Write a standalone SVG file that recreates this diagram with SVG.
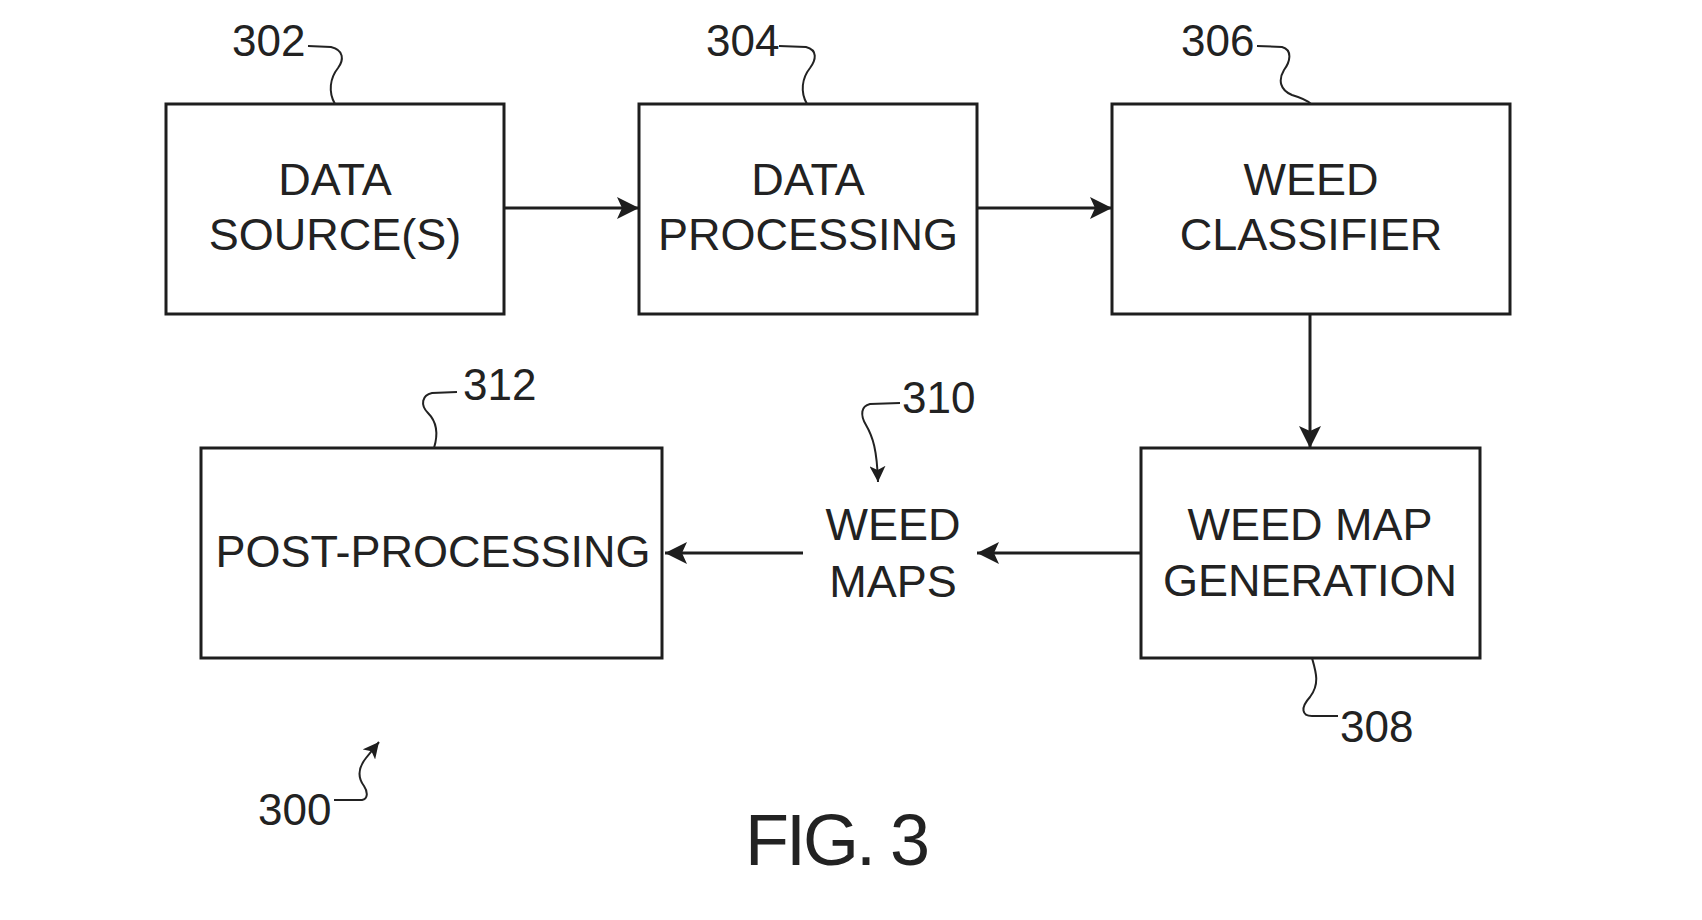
<svg xmlns="http://www.w3.org/2000/svg" width="1702" height="920" viewBox="0 0 1702 920">
<style>
.box{fill:#fff;stroke:#1e1e1e;stroke-width:3}
.t{font-family:"Liberation Sans",Arial,sans-serif;font-size:45px;fill:#222;text-anchor:middle}
.lbl{font-family:"Liberation Sans",Arial,sans-serif;font-size:44px;fill:#222}
.c{fill:none;stroke:#1e1e1e;stroke-width:3}
.ld{fill:none;stroke:#222;stroke-width:2}
.fig{font-family:"Liberation Sans",Arial,sans-serif;font-size:72px;fill:#222;letter-spacing:-3px}
</style>
<defs>
<marker id="ah" viewBox="0 0 22 22" refX="22" refY="11" markerWidth="22" markerHeight="22" markerUnits="userSpaceOnUse" orient="auto">
<path d="M0,0 L22,11 L0,22 L5,11 Z" fill="#1e1e1e"/>
</marker>
<marker id="ahs" viewBox="0 0 16 16" refX="16" refY="8" markerWidth="16" markerHeight="16" markerUnits="userSpaceOnUse" orient="auto">
<path d="M0,0 L16,8 L0,16 L4,8 Z" fill="#1e1e1e"/>
</marker>
</defs>
<rect width="1702" height="920" fill="#fff"/>

<g id="node-302">
<rect class="box" x="166" y="104" width="338" height="210"/>
<text class="t" x="335" y="195">DATA</text>
<text class="t" x="335" y="250">SOURCE(S)</text>
</g>
<g id="node-304">
<rect class="box" x="639" y="104" width="338" height="210"/>
<text class="t" x="808" y="195">DATA</text>
<text class="t" x="808" y="250">PROCESSING</text>
</g>
<g id="node-306">
<rect class="box" x="1112" y="104" width="398" height="210"/>
<text class="t" x="1311" y="195">WEED</text>
<text class="t" x="1311" y="250">CLASSIFIER</text>
</g>
<g id="node-308">
<rect class="box" x="1141" y="448" width="339" height="210"/>
<text class="t" x="1310" y="540">WEED MAP</text>
<text class="t" x="1310" y="596">GENERATION</text>
</g>
<g id="node-310">
<text class="t" x="893" y="540">WEED</text>
<text class="t" x="893" y="597">MAPS</text>
</g>
<g id="node-312">
<rect class="box" x="201" y="448" width="461" height="210"/>
<text class="t" x="433" y="567">POST-PROCESSING</text>
</g>

<g id="connectors">
<path class="c" d="M504,208 L639,208" marker-end="url(#ah)"/>
<path class="c" d="M977,208 L1112,208" marker-end="url(#ah)"/>
<path class="c" d="M1310,314 L1310,448" marker-end="url(#ah)"/>
<path class="c" d="M1141,553 L977,553" marker-end="url(#ah)"/>
<path class="c" d="M803,553 L665,553" marker-end="url(#ah)"/>
</g>

<g id="labels">
<text class="lbl" x="232" y="56">302</text>
<path class="ld" d="M308,46 L331,47 C344,50 344,60 338,68 C330,78 328,92 335,104"/>
<text class="lbl" x="706" y="56">304</text>
<path class="ld" d="M779,46 L806,47 C818,50 816,60 810,68 C802,78 800,92 807,104"/>
<text class="lbl" x="1181" y="56">306</text>
<path class="ld" d="M1257,46 L1282,47 C1293,50 1290,62 1284,70 C1278,80 1280,90 1292,95 C1302,98 1308,101 1311,104"/>
<text class="lbl" x="463" y="400">312</text>
<path class="ld" d="M457,392 L432,393 C422,395 420,405 428,413 C438,423 438,435 434,448"/>
<text class="lbl" x="902" y="413">310</text>
<path class="ld" d="M900,403 L870,404 C861,406 860,415 866,425 C873,437 877,450 878,482" marker-end="url(#ahs)"/>
<text class="lbl" x="1340" y="742">308</text>
<path class="ld" d="M1312,658 C1316,672 1320,684 1310,697 C1300,708 1302,716 1312,716 L1338,716"/>
<text class="lbl" x="258" y="825">300</text>
<path class="ld" d="M334,800 L362,800 C368,799 368,792 364,786 C358,778 358,768 366,758 L379,742" marker-end="url(#ahs)"/>
<text class="fig" x="745" y="865">FIG. 3</text>
</g>
</svg>
